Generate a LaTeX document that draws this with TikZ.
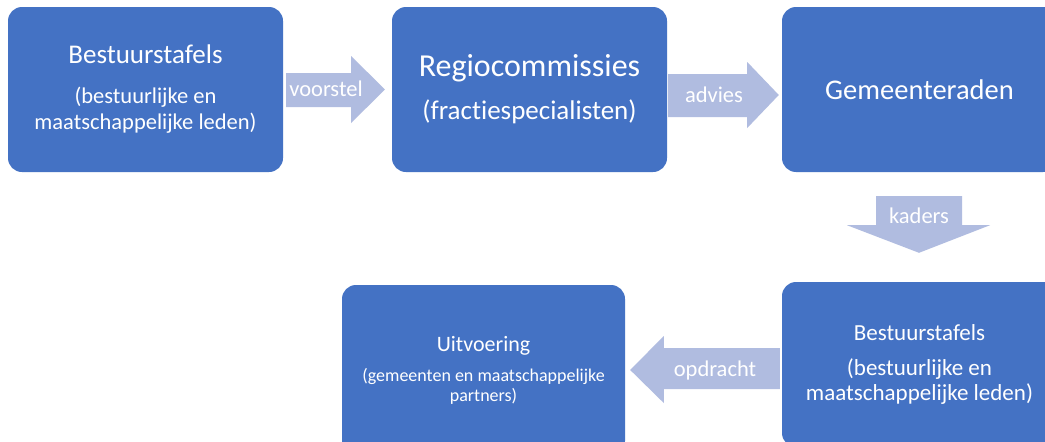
\documentclass[tikz,border=0pt]{standalone}
\usepackage{fontspec}
\setmainfont{Carlito}[Ligatures=NoCommon]
\usetikzlibrary{calc}
\definecolor{boxblue}{HTML}{4472C4}
\definecolor{arrowblue}{HTML}{B0BCE0}
\tikzset{
  stepbox/.style={fill=boxblue, rounded corners=14pt, minimum width=275pt,
    minimum height=165pt, inner sep=0pt, text=white, align=center},
  blockarrow/.style={fill=arrowblue},
  arrowlabel/.style={text=white, font=\fontsize{22.5}{26}\selectfont, inner sep=0pt},
}
\begin{document}
\begin{tikzpicture}[x=1pt,y=-1pt]
\useasboundingbox (0,0) rectangle (1045,442);
\clip (0,0) rectangle (1045,442);
\fill[white] (0,0) rectangle (1045,442);

% boxes
\node[stepbox, font=\fontsize{22.5}{26}\selectfont] (b1) at (145.5,89.5)
  {{\fontsize{27}{32}\selectfont Bestuurstafels}\\[14pt](bestuurlijke en\\maatschappelijke leden)};
\node[stepbox, font=\fontsize{27}{32}\selectfont] (b2) at (529.5,89.5)
  {{\fontsize{32}{38}\selectfont Regiocommissies}\\[11pt](fractiespecialisten)};
\node[stepbox, font=\fontsize{28.5}{34}\selectfont] (b3) at (919.5,89.5) {Gemeenteraden};
\node[stepbox, font=\fontsize{23}{25}\selectfont] (b4) at (919.5,364.5)
  {Bestuurstafels\\[10pt](bestuurlijke en\\maatschappelijke leden)};
\node[stepbox, minimum width=283pt, minimum height=170pt, font=\fontsize{18}{20}\selectfont] (b5) at (483.5,370)
  {{\fontsize{22}{26}\selectfont Uitvoering}\\[10pt](gemeenten en maatschappelijke\\partners)};

% voorstel: b1 -> b2
\fill[blockarrow] ($(b1.east)+(3,-16.5)$) -- ($(b1.east)+(68,-16.5)$) -- ($(b1.east)+(68,-33.5)$)
  -- ($(b2.west)+(-7,0)$) -- ($(b1.east)+(68,33.5)$) -- ($(b1.east)+(68,17.5)$)
  -- ($(b1.east)+(3,17.5)$) -- cycle;
% advies: b2 -> b3
\fill[blockarrow] ($(b2.east)+(1,-15.5)$) -- ($(b2.east)+(80,-15.5)$) -- ($(b2.east)+(80,-27.5)$)
  -- ($(b3.west)+(-3,5.5)$) -- ($(b2.east)+(80,38.5)$) -- ($(b2.east)+(80,27.5)$)
  -- ($(b2.east)+(1,27.5)$) -- cycle;
% kaders: b3 -> b4
\fill[blockarrow] ($(b3.south)+(-43.5,24)$) -- ($(b3.south)+(42.5,24)$) -- ($(b3.south)+(42.5,53)$)
  -- ($(b3.south)+(70.5,53)$) -- ($(b4.north)+(-0.5,-29)$) -- ($(b3.south)+(-72.5,53)$)
  -- ($(b3.south)+(-43.5,53)$) -- cycle;
% opdracht: b4 -> b5
\fill[blockarrow] ($(b4.west)+(-2,-16.5)$) -- ($(b4.west)+(-118,-16.5)$) -- ($(b4.west)+(-118,-28.5)$)
  -- ($(b5.east)+(5,0)$) -- ($(b4.west)+(-118,38.5)$) -- ($(b4.west)+(-118,24.5)$)
  -- ($(b4.west)+(-2,24.5)$) -- cycle;

% labels
\node[arrowlabel] (lvoorstel) at (326,89) {voorstel};
\node[arrowlabel] (ladvies) at (714,95) {advies};
\node[arrowlabel] (lkaders) at (919,216) {kaders};
\node[arrowlabel] (lopdracht) at (715,370) {opdracht};
\end{tikzpicture}
\end{document}
